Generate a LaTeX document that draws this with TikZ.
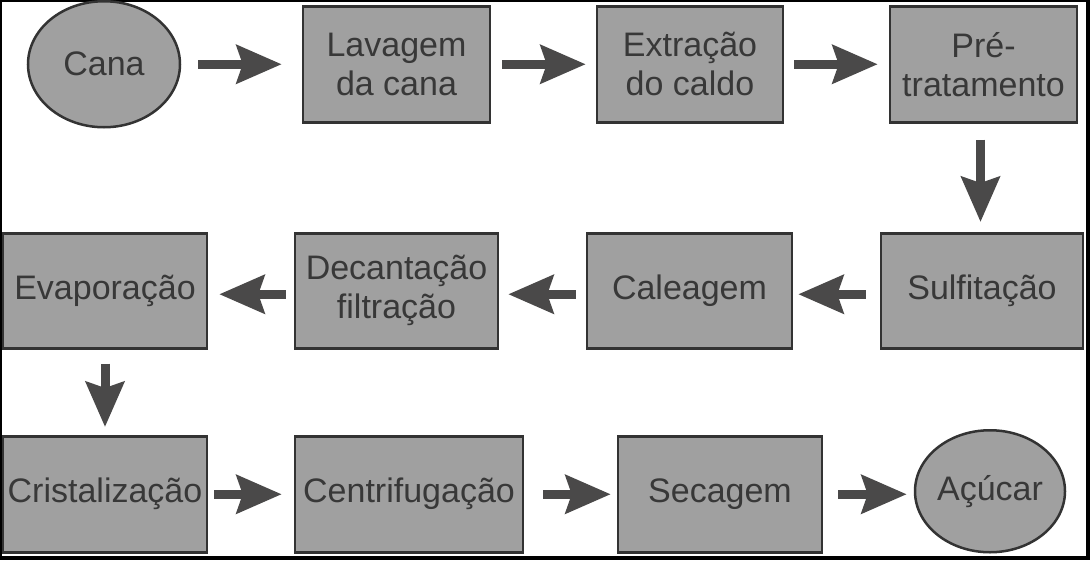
\documentclass[tikz,border=0pt]{standalone}
\usepackage{fontspec}
\setmainfont{Liberation Sans}
\usetikzlibrary{arrows.meta,shapes.geometric}
\definecolor{boxfill}{HTML}{A0A0A0}
\definecolor{boxline}{HTML}{333333}
\definecolor{txt}{HTML}{383838}
\definecolor{arr}{HTML}{4A4949}
\begin{document}
\begin{tikzpicture}[x=1pt,y=-1pt,
 stagebox/.style={draw=boxline, line width=2.5pt, fill=boxfill, text=txt, inner sep=0pt, minimum height=116pt, align=center, font=\fontsize{34}{39}\selectfont},
 endpoint/.style={ellipse, draw=boxline, line width=2.5pt, fill=boxfill, text=txt, inner sep=0pt, font=\fontsize{34}{39}\selectfont},
 flow/.style={draw=arr, line width=9pt, -{Stealth[length=45pt,width=38pt,inset=6pt]}}]
\fill[black] (0,0) rectangle (1090,560);
\fill[white] (1.5,1.5) rectangle (1086,556);
% row 1
\node[endpoint, minimum width=152pt, minimum height=126pt] (cana) at (104,64) {Cana};
\node[stagebox, minimum width=187pt] (lav) at (396.5,64) {Lavagem\\da cana};
\node[stagebox, minimum width=186pt] (ext) at (690,64) {Extração\\do caldo};
\node[stagebox, minimum width=187pt] (pre) at (983.5,64) {Pré-\\tratamento};
% row 2
\node[stagebox, minimum width=202pt, minimum height=115pt] (sulf) at (982,290.5) {Sulfitação};
\node[stagebox, minimum width=205pt, minimum height=115pt] (cal) at (689.5,290.5) {Caleagem};
\node[stagebox, minimum width=203pt, minimum height=115pt] (dec) at (396.5,290.5) {Decantação\\filtração};
\node[stagebox, minimum width=204pt, minimum height=115pt] (evap) at (105,290.5) {Evaporação};
% row 3
\node[stagebox, minimum width=204pt] (crist) at (105,494) {Cristalização};
\node[stagebox, minimum width=228pt] (centr) at (409,494) {Centrifugação};
\node[stagebox, minimum width=204pt] (sec) at (720,494) {Secagem};
\node[endpoint, minimum width=150pt, minimum height=122pt] (acu) at (990,491) {Açúcar};
% arrows
\draw[flow, shorten <=17pt, shorten >=20pt] (cana.east) -- (lav.west);
\draw[flow, shorten <=11pt, shorten >=10pt] (lav.east) -- (ext.west);
\draw[flow, shorten <=10pt, shorten >=11pt] (ext.east) -- (pre.west);
\draw[flow, shorten <=16pt, shorten >=10pt] ([xshift=-3pt]pre.south) -- ([xshift=-3pt]pre.south |- sulf.north);
\draw[flow, shorten <=14pt, shorten >=5pt] ([yshift=-3.5pt]sulf.west) -- ([yshift=-3.5pt]cal.east);
\draw[flow, shorten <=10pt, shorten >=9pt] ([yshift=-3.5pt]cal.west) -- ([yshift=-3.5pt]dec.east);
\draw[flow, shorten <=8pt, shorten >=11pt] ([yshift=-3.5pt]dec.west) -- ([yshift=-3.5pt]evap.east);
\draw[flow, shorten <=14pt, shorten >=8pt] (evap.south) -- (evap.south |- crist.north);
\draw[flow, shorten <=6pt, shorten >=12pt] (crist.east) -- (centr.west);
\draw[flow, shorten <=19pt, shorten >=6pt] (centr.east) -- (sec.west);
\draw[flow, shorten <=15pt, shorten >=7pt] (sec.east) -- (sec.east -| acu.west);
\end{tikzpicture}
\end{document}
